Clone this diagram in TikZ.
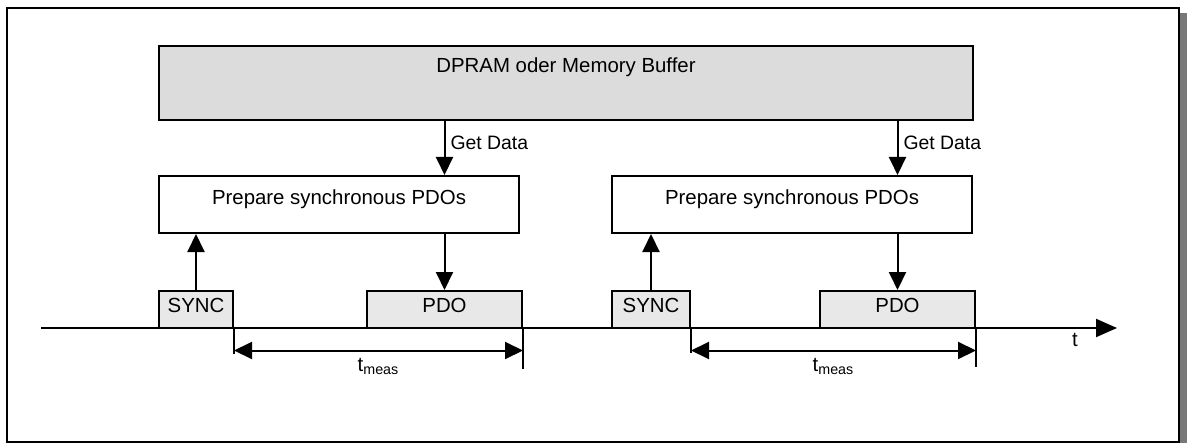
\documentclass[tikz,border=0pt]{standalone}
\usepackage{fontspec}
\setmainfont{Liberation Sans}
\usetikzlibrary{arrows.meta}
\definecolor{memgray}{RGB}{220,220,220}
\definecolor{slotgray}{RGB}{232,232,232}
\definecolor{shadowgray}{RGB}{120,120,120}
\begin{document}
\begin{tikzpicture}[x=0.5pt, y=-0.5pt,
    font=\fontsize{10.2}{12}\selectfont,
    membox/.style={draw, line width=1pt, fill=memgray, inner sep=0pt,
      minimum width=407pt, text height=13.5pt, text depth=23.5pt},
    prepbox/.style={draw, line width=1pt, fill=white, inner sep=0pt,
      minimum width=180pt, text height=14.5pt, text depth=14pt},
    slot/.style={draw, line width=1pt, fill=slotgray, inner sep=0pt,
      minimum width=#1, text height=10.5pt, text depth=8pt},
    arr/.style={line width=1pt, -{Triangle[length=9pt,width=8.5pt]}},
    meas/.style={line width=1pt, {Triangle[length=9pt,width=8.5pt]}-{Triangle[length=9pt,width=8.5pt]}},
    getdata/.style={right, pos=0.4, inner sep=2.5pt, font=\fontsize{9.7}{11}\selectfont}
  ]
  \pgfmathsetmacro{\ty}{328}
  \useasboundingbox (0,0) rectangle (1187,443);
  % frame
  \fill[shadowgray] (12,13) rectangle (1187,447);
  \draw[line width=1.2pt, fill=white] (7,8) rectangle (1179,442);
  % boxes
  \node[membox] (mem) at (566,83) {DPRAM oder Memory Buffer};
  \node[prepbox] (prepA) at (339,204.5) {Prepare synchronous PDOs};
  \node[prepbox] (prepB) at (792,204.5) {Prepare synchronous PDOs};
  \node[slot=37pt] (syncA) at (196,309.5) {SYNC};
  \node[slot=39pt] (syncB) at (651,309.5) {SYNC};
  \node[slot=77.5pt] (pdoA) at (444.5,309.5) {PDO};
  \node[slot=77.5pt] (pdoB) at (897.5,309.5) {PDO};
  % time axis
  \coordinate (t0) at (41,\ty);
  \coordinate (t1) at (1117,\ty);
  \draw[line width=1pt, -{Triangle[length=10.5pt,width=9pt]}] (t0) -- (t1);
  \node (tlab) at (1075,340) {t};
  % data flow
  \draw[arr] (mem.south -| pdoA.north) -- node[getdata] {Get Data} (prepA.north -| pdoA.north);
  \draw[arr] (mem.south -| pdoB.north) -- node[getdata] {Get Data} (prepB.north -| pdoB.north);
  \draw[arr] (syncA.north) -- (syncA.north |- prepA.south);
  \draw[arr] (syncB.north) -- (syncB.north |- prepB.south);
  \draw[arr] (pdoA.north |- prepA.south) -- (pdoA.north);
  \draw[arr] (pdoB.north |- prepB.south) -- (pdoB.north);
  % measuring time
  \draw[line width=0.8pt] (syncA.south east) -- ++(0,25);
  \draw[line width=0.8pt] (pdoA.south east) -- ++(0,40);
  \draw[line width=0.8pt] (syncB.south east) -- ++(0,24);
  \draw[line width=0.8pt] (pdoB.south east) -- ++(0,38);
  \coordinate (mA) at ([yshift=-10.75pt]syncA.south east);
  \coordinate (mB) at ([yshift=-10.75pt]syncB.south east);
  \draw[meas] (mA) -- (mA -| pdoA.east) node[midway, below] {t\textsubscript{meas}};
  \draw[meas] (mB) -- (mB -| pdoB.east) node[midway, below] {t\textsubscript{meas}};
\end{tikzpicture}
\end{document}
